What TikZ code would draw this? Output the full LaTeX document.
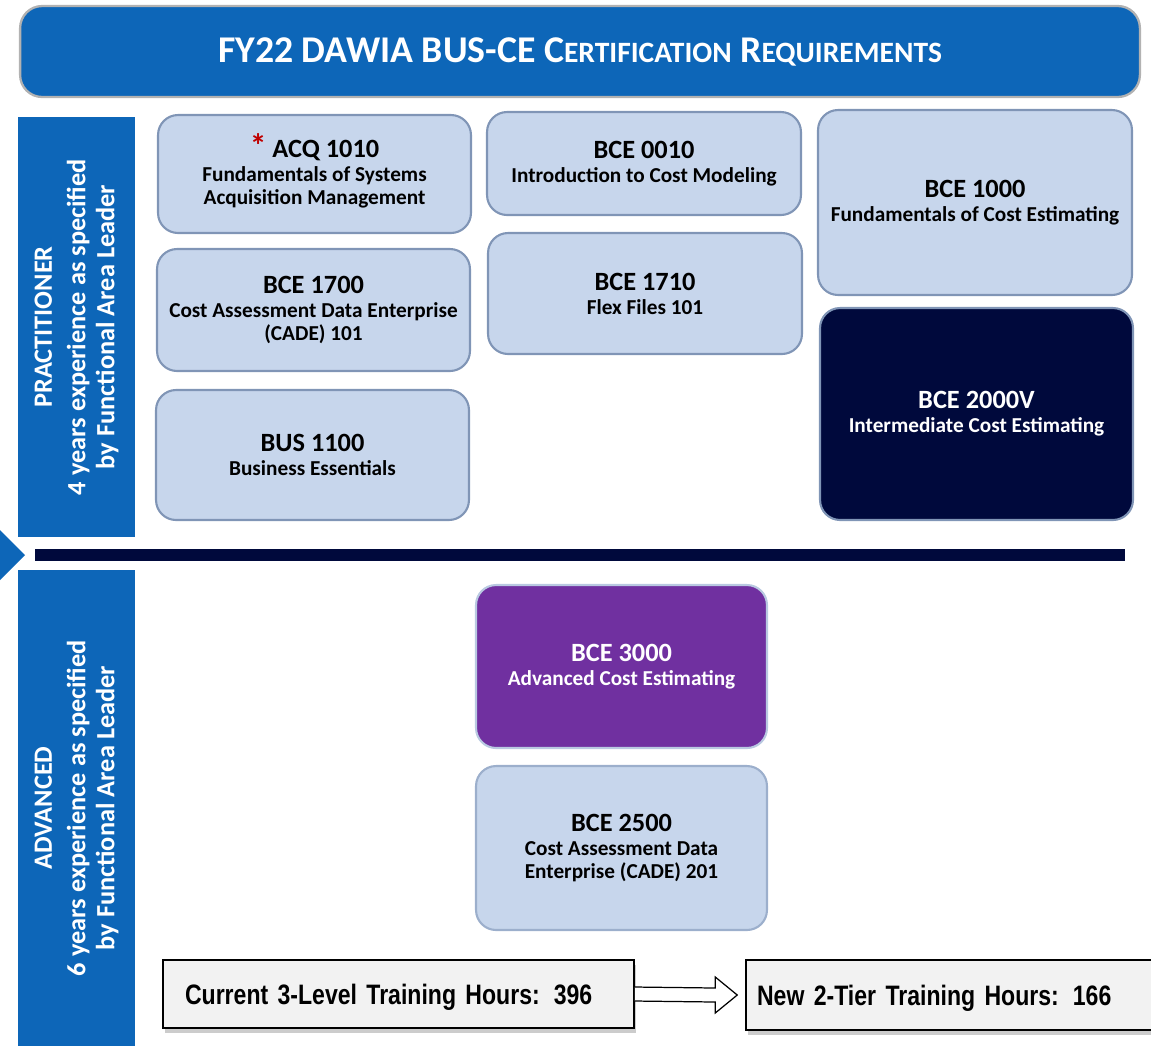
\documentclass[tikz,border=0pt]{standalone}
\usepackage{fontspec}
\setmainfont{Carlito}
\newfontfamily\narrowfont[FakeStretch=0.82]{Liberation Sans}
\usepackage{tikz}
\usetikzlibrary{shadows}
\usetikzlibrary{calc}

\definecolor{hdrblue}{RGB}{13,102,184}
\definecolor{navy}{RGB}{0,9,60}
\definecolor{paleblue}{RGB}{199,214,236}
\definecolor{boxline}{RGB}{128,149,182}
\definecolor{coursepurple}{RGB}{112,48,160}
\definecolor{astred}{RGB}{192,0,0}
\newcommand{\crstitle}{\fontsize{15}{17}\selectfont}
\newcommand{\hoursfont}{\narrowfont\bfseries\fontsize{16}{18}\selectfont\spaceskip=3pt plus 1pt\relax}

\begin{document}
\begin{tikzpicture}[x=0.02cm,y=-0.02cm,
  course/.style={draw=boxline,line width=1.2pt,fill=paleblue,rounded corners=0.4cm,align=center,inner sep=0pt,
    font=\bfseries\fontsize{12.1}{12.8}\selectfont},
  band/.style={fill=hdrblue,inner sep=0pt,text=white,align=center,rotate=90,
    font=\bfseries\fontsize{15}{16.5}\selectfont},
  hours/.style={draw=black,line width=0.9pt,fill=black!5,align=left,
    drop shadow={shadow xshift=1pt,shadow yshift=-3pt,opacity=0.4},
    font=\hoursfont},
  blockarrow/.style={draw=black,line width=0.7pt,fill=white,line join=miter}]
      \clip (0,0) rectangle (1151,1046);

     % title bar
     \node [fill=hdrblue,draw=black!30,line width=1.3pt,rounded corners=0.44cm,
       minimum width=22.4cm,minimum height=1.82cm,text=white,
       font=\bfseries\fontsize{21.5}{24}\selectfont] (title) at (580,51.5)
       {FY22 DAWIA BUS-CE C{\fontsize{16.8}{24}\selectfont ERTIFICATION} R{\fontsize{16.8}{24}\selectfont EQUIREMENTS}};

     % side bands
     \node [band,minimum width=8.4cm,minimum height=2.34cm] (pract) at (76.5,327)
       {PRACTITIONER\\[2.5pt]4 years experience as specified\\by Functional Area Leader};
     \node [band,minimum width=9.52cm,minimum height=2.34cm] (adv) at (76.5,808)
       {ADVANCED\\[2.5pt]6 years experience as specified\\by Functional Area Leader};
     \fill [hdrblue] (0,530) -- (25,555) -- (0,580) -- cycle;
     \node [fill=navy,inner sep=0pt,minimum width=21.8cm,minimum height=0.24cm] (divider) at (580,555) {};

     % practitioner courses
     \node [course,minimum width=6.26cm,minimum height=2.36cm] (acq) at (314.5,174)
       {{\crstitle\textcolor{astred}{\smash{\fontsize{19}{17}\selectfont*}} ACQ 1010}\\[0.9pt]Fundamentals of Systems\\Acquisition Management};
     \node [course,minimum width=6.26cm,minimum height=2.44cm] (bce1700) at (313.5,310)
       {{\crstitle BCE 1700}\\[0.9pt]Cost Assessment Data Enterprise\\(CADE) 101};
     \node [course,minimum width=6.26cm,minimum height=2.6cm] (bus1100) at (312.5,455)
       {{\crstitle BUS 1100}\\[0.9pt]Business Essentials};
     \node [course,minimum width=6.28cm,minimum height=2.06cm] (bce0010) at (644,163.5)
       {{\crstitle BCE 0010}\\[0.9pt]Introduction to Cost Modeling};
     \node [course,minimum width=6.28cm,minimum height=2.42cm] (bce1710) at (645,293.5)
       {{\crstitle BCE 1710}\\[0.9pt]Flex Files 101};
     \node [course,minimum width=6.28cm,minimum height=3.7cm] (bce1000) at (975,202.5)
       {{\crstitle BCE 1000}\\[0.9pt]Fundamentals of Cost Estimating};
     \node [course,fill=navy,draw=boxline,text=white,minimum width=6.26cm,minimum height=4.24cm] (bce2000) at (976.5,414)
       {{\crstitle BCE 2000V}\\[0.9pt]Intermediate Cost Estimating};

     % advanced courses
     \node [course,fill=coursepurple,draw=paleblue!80!boxline,text=white,minimum width=5.82cm,minimum height=3.26cm] (bce3000) at (621.5,666.5)
       {{\crstitle BCE 3000}\\[0.9pt]Advanced Cost Estimating};
     \node [course,draw=paleblue!40!boxline,minimum width=5.82cm,minimum height=3.28cm] (bce2500) at (621.5,848)
       {{\crstitle BCE 2500}\\[0.9pt]Cost Assessment Data\\Enterprise (CADE) 201};

     % training hours
     \node [hours,inner xsep=0.44cm,inner ysep=0pt,text width=8.54cm,minimum height=1.36cm,text depth=-3pt] (cur) at (398.5,994)
       {Current 3-Level Training Hours: 396};
     \node [hours,inner xsep=0.22cm,inner ysep=0pt,text width=7.84cm,minimum height=1.4cm,text depth=-3pt] (new) at (953,995)
       {New 2-Tier Training Hours: 166};
     \draw [blockarrow] ($(cur.east)+(0,-7)$) -- ($(new.west)+(-30,-7)$) -- ($(new.west)+(-30,-18)$)
       -- ($(new.west)+(-8,0)$) -- ($(new.west)+(-30,18)$) -- ($(new.west)+(-30,7)$)
       -- ($(cur.east)+(0,7)$);

  \end{tikzpicture}
\end{document}
